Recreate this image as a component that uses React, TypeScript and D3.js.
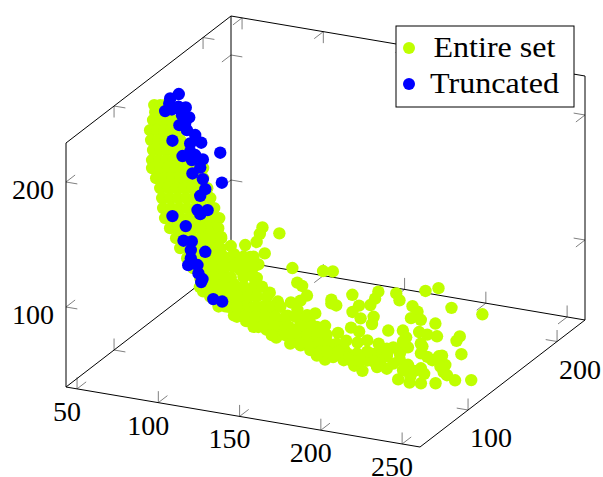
import React, { useEffect, useRef } from 'react';
import * as d3 from 'd3';

type P3 = [number, number, number];

const xTicks = [50, 100, 150, 200, 250];
const yTicks = [100, 200];
const zTicks = [100, 200];
const legendLabels = ['Entire set', 'Truncated'];

// [x, y, z]; depth (y) is only a rough guess
const entireUpper: P3[] = [
  [51.5,130,217.3],[55.2,130,218.1],[58.2,130,218.8],[52.1,130,211.8],[56.4,130,212.8],[60.1,130,213.6],
  [67.2,100,225.2],[71.6,100,226.2],[75.9,100,227.1],[79,100,227.8],
  [65.4,100,216.8],[69.7,100,217.8],[74,100,218.7],[78.3,100,219.7],[82,100,220.5],
  [66,100,209],[70.3,100,209.9],[74.6,100,210.9],[79,100,211.8],[83.9,100,212.9],
  [67.2,100,201.2],[71.6,100,202.2],[75.9,100,203.1],[80.2,100,204.1],[84.5,100,205],[88.2,100,205.8],
  [66.6,100,193.1],[70.9,100,194],[75.3,100,195],[79.6,100,195.9],[83.9,100,196.9],[88.2,100,197.8],[91.9,100,198.7],
  [66.6,100,186.7],[71.6,100,187.8],[76.5,100,188.9],[81.4,100,189.9],[86.3,100,191],[91.3,100,192.1],[96.2,100,193.2],[98,100,193.6],
  [69.1,100,179.2],[74,100,180.3],[79,100,181.4],[83.9,100,182.5],[88.8,100,183.6],[93.7,100,184.7],[98,100,185.6],
  [71.6,100,171.8],[76.5,100,172.9],[81.4,100,173.9],[86.3,100,175],[91.3,100,176.1],[96.2,100,177.2],[100.5,100,178.1],
  [72.8,100,164.1],[77.7,100,165.1],[82.6,100,166.2],[87.6,100,167.3],[92.5,100,168.4],[97.4,100,169.5],[102.4,100,170.6],
  [73.4,100,156.2],[78.3,100,157.3],[83.3,100,158.4],[88.2,100,159.4],[93.1,100,160.5],[98,100,161.6],[103,100,162.7],[104.8,100,163.1],
  [74.6,100,148.5],[79.6,100,149.5],[84.5,100,150.6],[89.4,100,151.7],[94.4,100,152.8],[99.3,100,153.9],[104.2,100,155],[107.9,100,155.8],
  [77.7,100,141.1],[82.6,100,142.2],[87.6,100,143.3],[92.5,100,144.4],[97.4,100,145.5],[102.4,100,146.6],[107.3,100,147.6],
  [81.4,100,133.9],[86.3,100,135],[91.3,100,136.1],[96.2,100,137.2],[101.1,100,138.3],[106.1,100,139.4],[109.1,100,140],
  [83.9,100,126.5],[88.8,100,127.6],[93.7,100,128.7],[98.7,100,129.7],[103.6,100,130.8],[108.5,100,131.9],
  [88.2,100,119.4],[93.1,100,120.5],[98,100,121.6],[103,100,122.7],[107.9,100,123.8],
  [91.9,100,112.3],[96.2,100,113.2],[101.1,100,114.3],[106.1,100,115.4],[111,100,116.5],
  [96.2,100,105.2],[101.1,100,106.3],[106.1,100,107.4],[111,100,108.5],
  [101.1,100,98.3],[106.1,100,99.4],[111,100,100.5],
];

const entireTail: P3[] = [
  [112.6,140,127.4],[111,140,122],[123,140,125],[109,140,115],[102,140,111],[115,100,135],[109,100,141],[114,140,107],
  [131,140,99],[132,100,124],[128,180,74],[134,180,75],[134,140,88],[137,140,86],[131,100,113],[139,100,103],[144,100,97],
  [152,100,98],[140,140,79],[136,140,74],[156,100,93],[162,100,90],[155,140,79],[158,140,75],[155,140,76],[146,180,59],
  [162,180,65],[160,180,59],[179,140,80],[172,140,78],[168,140,72],[173,140,68],[173,180,66],[175,180,61],[191,180,72],
  [199,180,76],[207,180,62],[226,180,61],[183,180,58],[208,140,81],[204,140,75],[210,140,75],[219,140,74],[181,140,71],
  [180,140,65],[190,140,62],[199,140,64],[201,140,59],[209,140,65],[214,140,64],[220,140,64],[234,140,67],[232,140,63],
  [235,140,53],[210,140,56],[211,140,54],[232,100,75],[189,100,86],[194,100,84],[181,100,80],[199,100,78],[193,100,75],
  [186,100,75],[206,100,77],[215,100,76],[211,100,74],[220,100,75],[219,100,67],[224,100,64],[206,100,69],[243,100,75],
  [239,100,71],[245,100,76],[247,100,69],[248,100,61],[253,100,58],[252,120,47],[241,100,53],[232,100,51],[225,100,50],
  [218,100,51],[232,100,63],[234,100,59],[228,100,60],[211,100,58],[205,100,58],[196,100,53],[191,100,56],[184.5,100,59],
  [173,100,57],[168,100,59],[164,100,62.5],[158,100,65],[153,100,67],[143,100,68],[132,100,74],[124.5,100,77],[117,100,80],
  [107.5,100,85],[170,100,67],[172,100,78],[173,100,84],[167,100,92.5],[162,100,78],[156,100,78],[150,100,87],[147.5,100,78],
  [139,100,85],[133,100,85],[127,100,89],[123,100,96],[115,100,89],[117,100,105],[123,100,112],[108.5,100,101],[102,100,142],
  [102,100,126],[115,100,121],[125,100,126],[178,100,66],[186.5,100,65],[199,100,62],[203,100,68],[215,100,63],[225.5,100,55],
  [180,100,71],[174,100,70],[166,100,71],[160,100,72],[150,100,73],[143,100,77],[137,100,81],[131,100,79],[127,100,100],
  [121,100,101],[106.5,100,114],[100,100,107],[108.5,100,128],
  [96,100,146],[100,100,136.5],[108.5,100,117],[96,100,125],[96,100,112],[96,100,98],[102,100,97],[117,100,129],[121,100,117],
  [127,100,129],[110.5,100,96],[123,100,88],[135,100,91],[145.5,100,82],[154,100,72],[166,100,79],[158,100,85],[164,100,84],
  [168,100,82],[174,100,77],[178,100,60],[191,100,63],[207,100,64],[199,100,69],[221,100,59],[219,100,72],[224,100,78],
  [221,100,82],[208,100,73.5],[211,100,68],[203,100,62],[193,100,61],[184.5,100,68],[166,100,64],[158,100,72],[137,100,73],
  [143,100,70],[246,100,63],[236,100,73],[244,100,67],[98,100,95],
  [102,100,118],[108.5,100,109],[115,100,110],[102,100,105],[115,100,100],[121,100,125],[127,100,118],[105,100,90],
  [111.6,100,86],[121,100,82],[127,100,81],
];

// the dense part of the elbow and lower band
const entireDense: P3[] = [
  [98.3,100,122.8],[104.4,100,124.1],[110.6,100,125.5],[122.9,100,128.2],[129,100,129.5],
  [98.3,100,114.8],[104.4,100,116.1],[110.6,100,117.5],[116.7,100,118.8],[122.9,100,120.2],[129,100,121.5],
  [98.3,100,106.8],[104.4,100,108.1],[122.9,100,112.2],[129,100,113.5],
  [98.3,100,98.8],[104.4,100,100.1],[110.6,100,101.5],[116.7,100,102.8],[122.9,100,104.2],[129,100,105.5],[134.2,100,106.7],
  [102.4,100,91.7],[108.5,100,93],[114.7,100,94.4],[119.8,100,95.5],[126,100,96.9],[131.1,100,98],[137.3,100,99.3],
  [113.7,100,86.1],[118.8,100,87.3],[130.1,100,89.8],[140.3,100,92],[145.5,100,93.1],
  [118.8,100,79.3],[123.9,100,80.4],[130.1,100,81.8],[136.2,100,83.1],[142.4,100,84.5],[148.6,100,85.8],[154.7,100,87.2],
  [129,100,73.5],[135.2,100,74.9],[141.4,100,76.2],[150.6,100,78.3],[158.8,100,80.1],[165,100,81.4],
  [140.3,100,69.3],[148.6,100,71.1],[155.7,100,72.7],[161.9,100,74.1],[168.1,100,75.4],
  [151.6,100,65.1],[157.8,100,66.5],[162.9,100,67.6],[169.1,100,68.9],[175.2,100,70.3],
  [170.1,100,62.6],[174.2,100,63.5],[181.4,100,65.1],
  [192.7,100,66.1],[188.6,100,59.9],[194.7,100,61.3],[211.2,100,70.2],
];

const truncated: P3[] = [
  [66.6,130,229.5],[61.3,130,224.8],[60.7,130,220.6],[58.2,130,214],[62.3,130,216.2],[66.4,130,219.3],[70.9,130,219.7],
  [68.5,130,213.1],[73,130,212.2],[70.5,130,206.8],[67,130,204.7],[71.6,130,201.7],[76.7,130,198.9],[80.4,130,193.6],
  [73.6,130,191.5],[62.7,130,191.3],[92.1,130,188.2],[73.6,130,184.9],[68.9,130,180.4],[76.7,130,182.9],[81.4,130,180.4],
  [74.6,130,178.4],[79.8,130,173.6],[75,130,167.8],[93.1,130,164.4],[81.4,130,164.7],[82.9,130,157],[79.8,130,151],
  [78.1,130,139.2],[84.3,130,140.5],[79.8,130,136.3],[62.7,130,131],[70.9,130,124.8],[69.5,130,112.8],[74.6,130,113.3],
  [74,130,106.3],[82.9,130,106.9],[74,130,99.6],[72.4,130,93.9],[78.1,130,95.2],[78.7,130,88.6],[81.2,130,84.7],
  [80.4,130,82.1],[87.8,130,70.1],[93.3,130,69.4],
];

const entireSet = [...entireUpper, ...entireTail, ...entireDense];

const xDomain: [number, number] = [43.2, 261];
const yDomain: [number, number] = [46, 231.4];
const zDomain: [number, number] = [36, 231.2];

const App = () => {
  const svgRef = useRef<SVGSVGElement>(null);

  useEffect(() => {
    const svg = d3.select(svgRef.current);
    svg.selectAll('*').remove();

    const origin = [66, 387];
    const sx = d3.scaleLinear().domain(xDomain).range([0, 1]);
    const sy = d3.scaleLinear().domain(yDomain).range([0, 1]);
    const sz = d3.scaleLinear().domain(zDomain).range([0, 1]);
    const ex = [354, 60];
    const ey = [165, -127];
    const ez = [0, -244];

    const project = (x: number, y: number, z: number): [number, number] => [
      origin[0] + sx(x) * ex[0] + sy(y) * ey[0] + sz(z) * ez[0],
      origin[1] + sx(x) * ex[1] + sy(y) * ey[1] + sz(z) * ez[1],
    ];

    const [x0, x1] = xDomain;
    const [y0, y1] = yDomain;
    const [z0, z1] = zDomain;

    const edges: [P3, P3][] = [
      [[x0, y1, z0], [x1, y1, z0]],
      [[x0, y0, z0], [x0, y1, z0]],
      [[x0, y1, z0], [x0, y1, z1]],
      [[x0, y0, z1], [x0, y1, z1]],
      [[x0, y1, z1], [x1, y1, z1]],
      [[x1, y1, z0], [x1, y1, z1]],
      [[x0, y0, z0], [x1, y0, z0]],
      [[x1, y0, z0], [x1, y1, z0]],
      [[x0, y0, z0], [x0, y0, z1]],
    ];

    // tick marks are 11.5px long along the box directions
    const tickLen = 11.5;
    const unit = (v: number[]) => {
      const n = Math.hypot(v[0], v[1]);
      return [(v[0] / n) * tickLen, (v[1] / n) * tickLen];
    };
    const ux = unit(ex);
    const uy = unit(ey);
    const uz = unit(ez);
    const neg = (v: number[]) => [-v[0], -v[1]];

    const tickSegs: [[number, number], number[]][] = [];
    const addTick = (p: [number, number], ...dirs: number[][]) => {
      dirs.forEach((d) => tickSegs.push([p, d]));
    };
    xTicks.forEach((v) => {
      addTick(project(v, y0, z0), uy, uz);
      addTick(project(v, y1, z0), neg(uy), uz);
      addTick(project(v, y1, z1), neg(uy), neg(uz));
    });
    yTicks.forEach((v) => {
      addTick(project(x0, v, z0), ux, uz);
      addTick(project(x1, v, z0), neg(ux), uz);
      addTick(project(x0, v, z1), ux, neg(uz));
    });
    zTicks.forEach((v) => {
      addTick(project(x0, y0, v), ux, uy);
      addTick(project(x0, y1, v), ux, neg(uy));
      addTick(project(x1, y1, v), neg(ux), neg(uy));
    });

    svg.append('g')
      .selectAll('line')
      .data(tickSegs)
      .join('line')
      .attr('x1', (d) => d[0][0])
      .attr('y1', (d) => d[0][1])
      .attr('x2', (d) => d[0][0] + d[1][0])
      .attr('y2', (d) => d[0][1] + d[1][1])
      .attr('stroke', '#808080')
      .attr('stroke-width', 1);

    svg.append('g')
      .selectAll('line')
      .data(edges)
      .join('line')
      .attr('x1', (d) => project(...d[0])[0])
      .attr('y1', (d) => project(...d[0])[1])
      .attr('x2', (d) => project(...d[1])[0])
      .attr('y2', (d) => project(...d[1])[1])
      .attr('stroke', '#000')
      .attr('stroke-width', 1);

    const drawMarks = (data: P3[], color: string) => {
      svg.append('g')
        .selectAll('circle')
        .data(data)
        .join('circle')
        .attr('cx', (d) => project(...d)[0])
        .attr('cy', (d) => project(...d)[1])
        .attr('r', 6.2)
        .attr('fill', color);
    };
    drawMarks(entireSet, '#bfff00');
    drawMarks(truncated, '#0000ff');

    const labels = svg.append('g')
      .attr('font-family', '"Liberation Serif", serif')
      .attr('font-size', 28)
      .attr('fill', '#000')
      .attr('text-anchor', 'middle');
    const addLabel = (p: [number, number], dx: number, dy: number, text: number) => {
      labels.append('text')
        .attr('x', p[0] + dx)
        .attr('y', p[1] + dy + 9)
        .text(text);
    };
    xTicks.forEach((v) => addLabel(project(v, y0, z0), -10, 23, v));
    yTicks.forEach((v) => addLabel(project(x1, v, z0), 23, 28, v));
    zTicks.forEach((v) => addLabel(project(x0, y0, v), -33, 8, v));

    const legend = svg.append('g');
    legend.append('rect')
      .attr('x', 396)
      .attr('y', 26)
      .attr('width', 178)
      .attr('height', 81)
      .attr('fill', '#fff')
      .attr('stroke', '#000')
      .attr('stroke-width', 1);
    const legendColors = ['#bfff00', '#0000ff'];
    const legendY = [48, 84];
    const legendWidths = [122, 129];
    legendLabels.forEach((label, i) => {
      legend.append('circle')
        .attr('cx', 409)
        .attr('cy', legendY[i])
        .attr('r', 6)
        .attr('fill', legendColors[i]);
      legend.append('text')
        .attr('x', 494.5 - legendWidths[i] / 2)
        .attr('y', legendY[i] + 9)
        .attr('font-family', '"Liberation Serif", serif')
        .attr('font-size', 29)
        .attr('textLength', legendWidths[i])
        .attr('lengthAdjust', 'spacingAndGlyphs')
        .text(label);
    });
  }, []);

  return (
    <svg
      ref={svgRef}
      width={603}
      height={477}
      style={{ position: 'absolute', left: 0, top: 0, background: '#fff' }}
    />
  );
};

export default App;
